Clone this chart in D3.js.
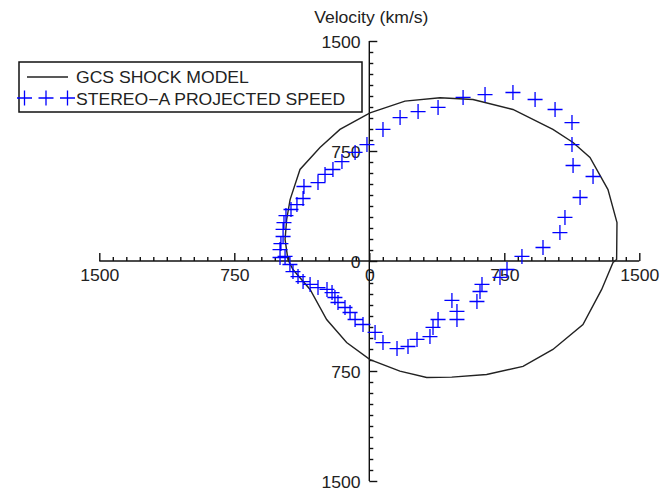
<!DOCTYPE html>
<html>
<head>
<meta charset="utf-8">
<script src="https://cdn.jsdelivr.net/npm/d3@7"></script>
<style>
  html, body { margin: 0; padding: 0; background: #fff; }
  svg { display: block; }
  text { font-family: "Liberation Sans", Arial, Helvetica, sans-serif; fill: #222; }
</style>
</head>
<body>
<svg id="chart" width="666" height="491"></svg>
<script>
// GCS shock model outline (vx, vy in km/s)
const gcsVx = [-440, -459, -468, -452, -424, -329, -237, -126, 4, 170, 319, 458, 652, 854, 1020, 1187, 1291, 1354, 1374, 1376, 1326, 1226, 1132, 1020, 798, 576, 393, 198, 4, -163, -274, -385];
const gcsVy = [419, 283, 147, 10, -58, -194, -399, -556, -672, -751, -794, -792, -774, -719, -603, -433, -194, -10, 10, 262, 487, 706, 808, 897, 1033, 1101, 1113, 1090, 1010, 897, 774, 624];

// STEREO-A projected speed (vx, vy in km/s)
const staVx = [-496, -496, -491, -479, -479, -474, -463, -435, -402, -368, -363, -285, -246, -202, -152, -79, -13, 76, 171, 271, 382, 521, 643, 798, 921, 1032, 1126, 1126, 1132, 1243, 1171, 1087, 1059, 965, 848, 765, 726, 626, 615, 598, 487, 487, 459, 382, 354, 337, 265, 215, 154, 76, 32, -35, -79, -107, -135, -174, -191, -207, -235, -285, -329, -368, -396, -424, -441, -468];
const staVy = [24, 78, 119, 167, 215, 262, 310, 351, 385, 426, 508, 535, 590, 624, 678, 740, 794, 897, 978, 1019, 1047, 1115, 1135, 1149, 1101, 1033, 944, 794, 651, 576, 433, 297, 194, 92, 31, -58, -112, -160, -208, -276, -344, -399, -269, -399, -453, -515, -535, -583, -597, -556, -487, -433, -399, -351, -317, -283, -249, -215, -194, -181, -160, -140, -106, -72, -24, 31];

const majorTicks = [-1500, -750, 0, 750, 1500];
const minorTicks = d3.range(-1500, 1500.1, 75);
const titleText = "Velocity (km/s)";
const legendLabels = ["GCS SHOCK MODEL", "STEREO\u2212A PROJECTED SPEED"];

const FONT = 16, STRETCH = 1.1;
const svg = d3.select("#chart");

const x = d3.scaleLinear().domain([-1500, 1500]).range([99.3, 639.3]);
const y = d3.scaleLinear().domain([-1500, 1500]).range([481, 41]);
const x0 = x(0), y0 = y(0);

// widen glyphs horizontally around each label's anchor
function stretchText(sel) {
  sel.each(function () {
    const t = d3.select(this);
    const tx = +t.attr("x") || 0;
    t.attr("transform", `translate(${tx},0) scale(${STRETCH},1) translate(${-tx},0)`);
  });
}

// x axis: ticks pointing up, labels below with absolute values
const xTicks = svg.append("g").attr("transform", `translate(0,${y0})`)
  .call(d3.axisTop(x).tickValues(minorTicks).tickSize(4).tickFormat(""));
xTicks.selectAll(".tick line").attr("y2", d => majorTicks.includes(d) ? -8 : -4);
xTicks.select(".domain").attr("d", `M${x(-1500)},0H${x(1500)}`);
xTicks.selectAll("path, line").attr("stroke", "#111").attr("stroke-width", 1.4);

const xLabels = svg.append("g").attr("transform", `translate(0,${y0})`)
  .call(d3.axisBottom(x).tickValues(majorTicks).tickSize(0).tickPadding(9)
    .tickFormat(d => Math.abs(d)));
xLabels.select(".domain").remove();
xLabels.selectAll("text").attr("font-size", FONT).attr("fill", "#222")
  .style("font-family", '"Liberation Sans", Arial, sans-serif')
  .each(function () { d3.select(this).attr("transform", `scale(${STRETCH},1)`); });

// y axis: ticks pointing right, labels on the left
const yTicks = svg.append("g").attr("transform", `translate(${x0},0)`)
  .call(d3.axisRight(y).tickValues(minorTicks).tickSize(4).tickFormat(""));
yTicks.selectAll(".tick line").attr("x2", d => majorTicks.includes(d) ? 8 : 4);
yTicks.select(".domain").attr("d", `M0,${y(1500)}V${y(-1500)}`);
yTicks.selectAll("path, line").attr("stroke", "#111").attr("stroke-width", 1.4);

const yLabels = svg.append("g").attr("transform", `translate(${x0},0)`)
  .call(d3.axisLeft(y).tickValues(majorTicks).tickSize(0).tickPadding(8)
    .tickFormat(d => Math.abs(d)));
yLabels.select(".domain").remove();
yLabels.selectAll("text").attr("font-size", FONT).attr("fill", "#222").attr("dy", "0.42em")
  .style("font-family", '"Liberation Sans", Arial, sans-serif')
  .each(function () { d3.select(this).attr("transform", `scale(${STRETCH},1)`); });

// title above the vertical axis
svg.append("text").attr("x", x0 + 2).attr("y", 23).attr("text-anchor", "middle")
  .attr("font-size", FONT).text(titleText).call(stretchText);

// GCS model outline
const pts = gcsVx.map((v, i) => [v, gcsVy[i]]);
svg.append("path")
  .attr("d", d3.line().x(d => x(d[0])).y(d => y(d[1])).curve(d3.curveLinearClosed)(pts))
  .attr("fill", "none").attr("stroke", "#222").attr("stroke-width", 1.4);

// plus markers
const HW = 7.5, HH = 7.5;
const plus = (cx, cy) => `M${cx - HW},${cy}H${cx + HW}M${cx},${cy - HH}V${cy + HH}`;
svg.append("path")
  .attr("d", staVx.map((v, i) => plus(x(v), y(staVy[i]))).join(""))
  .attr("fill", "none").attr("stroke", "#0000ff").attr("stroke-width", 1.3);

// legend
const lg = svg.append("g");
lg.append("rect").attr("x", 19).attr("y", 62).attr("width", 343).attr("height", 50)
  .attr("fill", "#fff").attr("stroke", "#111").attr("stroke-width", 1.5);
lg.append("line").attr("x1", 27).attr("x2", 68).attr("y1", 77).attr("y2", 77)
  .attr("stroke", "#222").attr("stroke-width", 1.4);
lg.append("path").attr("d", [24.5, 46, 67.5].map(cx => plus(cx, 98)).join(""))
  .attr("fill", "none").attr("stroke", "#0000ff").attr("stroke-width", 1.3);
lg.selectAll("text.lab").data(legendLabels).join("text").attr("class", "lab")
  .attr("x", 76).attr("y", (d, i) => 83 + i * 22).attr("font-size", FONT)
  .text(d => d).call(stretchText);
</script>
</body>
</html>
